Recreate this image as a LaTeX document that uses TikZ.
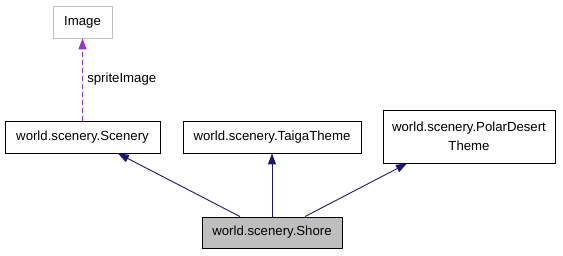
\documentclass[tikz,border=0pt]{standalone}
\usepackage{fontspec}
\setmainfont{Liberation Sans}
\usetikzlibrary{arrows.meta}
\definecolor{edgeblue}{HTML}{191970}
\definecolor{usepurple}{HTML}{9A32CD}
\definecolor{boxgray}{HTML}{BFBFBF}
\begin{document}
\begin{tikzpicture}[x=1pt,y=-1pt,
  cls/.style={draw=black,line width=0.9pt,fill=white,inner sep=0pt,
    font=\fontsize{13.2}{19}\selectfont,align=center},
  ext/.style={draw=boxgray,line width=0.9pt,fill=white,inner sep=0pt,
    font=\fontsize{13.2}{19}\selectfont},
  inherit/.style={draw=edgeblue,line width=0.9pt,
    -{Triangle[length=11pt,width=8pt,fill=edgeblue]}},
  uses/.style={draw=usepurple,line width=0.9pt,dashed,dash pattern=on 5pt off 3pt,
    -{Triangle[length=11pt,width=8pt,fill=usepurple]}}]
\useasboundingbox (0,0) rectangle (563,256);
\fill[white] (0,0) rectangle (563,256);

\node[ext, minimum width=59pt, minimum height=32pt] (image) at (82.5,22) {Image};
\node[cls, minimum width=155pt, minimum height=32pt] (scenery) at (82.5,137) {world.scenery.Scenery};
\node[cls, minimum width=178pt, minimum height=32pt] (taiga) at (272,137) {world.scenery.TaigaTheme};
\node[cls, minimum width=172pt, minimum height=53pt] (polar) at (469,136.5) {world.scenery.PolarDesert\\Theme};
\node[cls, fill=boxgray, minimum width=140pt, minimum height=31pt] (shore) at (272,232.5) {world.scenery.Shore};

% member relation
\draw[uses] (scenery.north) -- node[right=1pt, font=\fontsize{13.2}{15}\selectfont, text=black] {spriteImage} (image.south);

% inheritance
\draw[inherit] ([xshift=-32pt]shore.north) -- ([xshift=35.5pt]scenery.south);
\draw[inherit] (shore.north) -- (taiga.south);
\draw[inherit] ([xshift=33pt]shore.north) -- ([xshift=-62pt]polar.south);
\end{tikzpicture}
\end{document}
